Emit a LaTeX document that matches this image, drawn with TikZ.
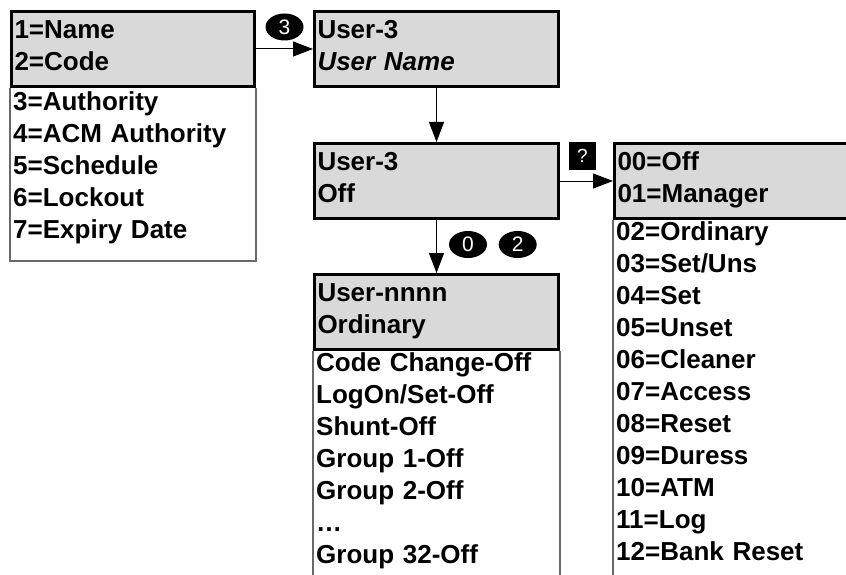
\documentclass[tikz,border=0pt]{standalone}
\usepackage{fontspec}
\setmainfont{Liberation Sans}
\usetikzlibrary{positioning,shapes.geometric,arrows.meta}
\definecolor{panelgrey}{RGB}{217,217,217}
\definecolor{framegrey}{RGB}{105,105,105}

\begin{document}
\begin{tikzpicture}[>={Triangle[length=20pt,width=15pt]}, x=1pt, y=-1pt,
    display/.style={draw, line width=3pt, fill=panelgrey, anchor=north west,
        align=left, inner xsep=3pt, text width=#1, text height=19pt,
        text depth=40pt, minimum height=75pt,
        font=\fontsize{26}{32}\selectfont\bfseries},
    choices/.style={anchor=north west, align=left, inner xsep=3pt,
        inner ysep=4pt, text width=#1,
        font=\fontsize{26}{32}\selectfont\bfseries},
    edgeline/.style={draw=framegrey, line width=1.3pt},
    badge/.style={ellipse, fill=black, text=white, inner sep=0pt,
        minimum width=38pt, minimum height=27pt,
        font=\fontsize{21}{21}\selectfont},
    keycap/.style={fill=black, text=white, inner sep=0pt,
        minimum width=27pt, minimum height=27pt,
        font=\fontsize{19}{19}\selectfont}]

    % fixed page size
    \useasboundingbox (0,0) rectangle (846,575);

    % the first screen with the user options
    \node[display=237pt] (menu) at (10,10) {1=Name\\2=Code};
    % the rest of the options below it
    \node[choices=237pt, inner ysep=3pt] (menulist) at (menu.south west)
        {3=Authority\\4=ACM Authority\\5=Schedule\\6=Lockout\\7=Expiry Date};
    \draw[edgeline] (menu.south west) -- ++(0,173) -| (menu.south east);

    % the screen for the user name
    \node[display=238pt] (username) at (313,10) {User-3\\\textit{User Name}};

    % the screen for the user type
    \node[display=238pt] (userstate) at (313,142) {User-3\\Off};

    % the list of user types on the right
    \node[display=260pt] (usertype) at (613,142) {00=Off\\01=Manager};
    \node[choices=260pt, inner ysep=1pt] (typelist) at (usertype.south west)
        {02=Ordinary\\03=Set/Uns\\04=Set\\05=Unset\\06=Cleaner\\07=Access\\
         08=Reset\\09=Duress\\10=ATM\\11=Log\\12=Bank Reset};
    \draw[edgeline] (usertype.south west) -- ++(0,358) -- ++(260,0);

    % the new user screen with its flags
    \node[display=238pt] (newuser) at (313,273) {User-nnnn\\Ordinary};
    \node[choices=238pt, inner ysep=1pt] (newuserlist) at (newuser.south west)
        {Code Change-Off\\LogOn/Set-Off\\Shunt-Off\\Group 1-Off\\
         Group 2-Off\\…\\Group 32-Off};
    % the two side lines of the flag list
    \foreach \c in {south west, south east}
        \draw[edgeline] (newuser.\c) -- ++(0,240);

    % arrow from the menu to the user name, key 3
    \draw[->, line width=1pt] (menu.east) -- (username.west)
        node[badge, midway, above=8pt] (three) {3};

    % arrow down to the user type
    \draw[->, line width=1pt] (username.south) -- (userstate.north);

    % arrow to the list of types, help key
    \draw[->, line width=1pt] (userstate.east) -- (usertype.west)
        node[keycap, midway, above=11pt, xshift=-4pt] (help) {?};

    % arrow down to the new user, keys 0 and 2
    \draw[->, line width=1pt] (userstate.south) -- (newuser.north)
        node[badge, midway, right=12pt, yshift=2pt] (zero) {0};
    \node[badge, right=11pt of zero] (two) {2};
\end{tikzpicture}
\end{document}
